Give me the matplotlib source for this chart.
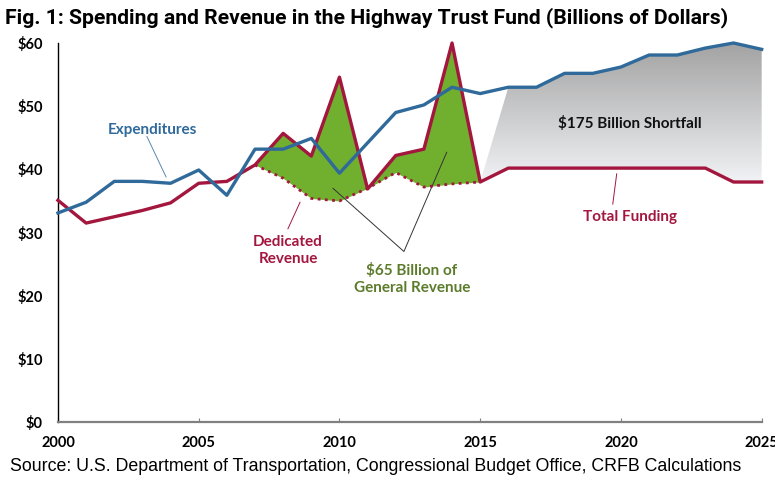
import numpy as np
import matplotlib
matplotlib.use('Agg')
import matplotlib.pyplot as plt
from matplotlib.patches import Polygon
from matplotlib.colors import LinearSegmentedColormap

# ---- Data (billions of dollars) ----
years = list(range(2000, 2026))
expenditures = [33.1, 34.8, 38.1, 38.1, 37.8, 39.9, 35.9, 43.2, 43.2, 44.9,
                39.4, 44.2, 49.0, 50.2, 53.0, 52.0, 53.0, 53.0, 55.2, 55.2,
                56.2, 58.1, 58.1, 59.2, 60.0, 59.0]
total_funding = [35.1, 31.5, 32.5, 33.5, 34.7, 37.8, 38.1, 40.7, 45.7, 42.1,
                 54.6, 36.9, 42.2, 43.2, 60.0, 38.0, 40.2, 40.2, 40.2, 40.2,
                 40.2, 40.2, 40.2, 40.2, 38.0, 38.0]
dedicated_years = list(range(2007, 2016))
dedicated_revenue = [40.7, 38.6, 35.4, 35.0, 37.0, 39.5, 37.2, 37.7, 38.0]

BLUE = '#2f6a9b'
RED = '#a3173f'
GREEN = '#71af2f'
LABEL_GREEN = '#5c7c2c'
LABEL_FONT = ['Lato', 'DejaVu Sans']

fig = plt.figure(figsize=(7.75, 4.78), dpi=100)
ax = fig.add_axes([0.0748, 0.117, 0.908, 0.793])

yr = np.array(years)
exp_arr = np.array(expenditures)
fund_arr = np.array(total_funding)

# green area: general revenue transfers
fund_sub = fund_arr[(yr >= 2007) & (yr <= 2015)]
ax.fill_between(dedicated_years, dedicated_revenue, fund_sub, color=GREEN, lw=0, zorder=1)

# gray gradient area: projected shortfall
mask_top = yr >= 2016
mask_bot = yr >= 2015
verts = list(zip(yr[mask_top], exp_arr[mask_top])) + \
        list(zip(yr[mask_bot][::-1], fund_arr[mask_bot][::-1]))
poly = Polygon(verts, closed=True, facecolor='none', edgecolor='none')
ax.add_patch(poly)
cmap = LinearSegmentedColormap.from_list('shade', ['#f1f2f5', '#a3a3a3'])
grad = np.linspace(0, 1, 256).reshape(-1, 1)
img = ax.imshow(grad, extent=[2015, 2025, 38, 60], origin='lower', cmap=cmap,
                aspect='auto', zorder=1, interpolation='bilinear')
img.set_clip_path(poly)

ax.plot(years, total_funding, color=RED, lw=2.4, zorder=3, clip_on=False)
ax.plot(dedicated_years, dedicated_revenue, color=RED, lw=2.0, ls=(0, (1, 1.6)),
        zorder=3)
ax.plot(years, expenditures, color=BLUE, lw=2.4, zorder=4, clip_on=False)

ax.set_xlim(2000, 2025)
ax.set_ylim(0, 60)
ax.set_xticks(range(2000, 2026, 5))
ax.set_yticks(range(0, 61, 10))
ax.set_yticklabels([f'${v}' for v in range(0, 61, 10)])
for lab in ax.get_xticklabels() + ax.get_yticklabels():
    lab.set_fontfamily(LABEL_FONT)
    lab.set_fontweight('bold')
    lab.set_fontsize(10.5)
ax.tick_params(axis='y', length=0, pad=11)
ax.tick_params(axis='x', direction='in', length=3, color='#808080', pad=10)

for side in ['top', 'right']:
    ax.spines[side].set_visible(False)
ax.spines['left'].set_color('black')
ax.spines['left'].set_linewidth(1.0)
ax.spines['bottom'].set_color('#808080')
ax.spines['bottom'].set_linewidth(1.6)

# annotations
ax.text(2003.37, 46.2, 'Expenditures', color=BLUE, fontsize=11, fontweight='bold',
        family=LABEL_FONT, ha='center', va='center')
ax.plot([2003.16, 2003.84], [45.2, 38.8], color=BLUE, lw=0.7, alpha=0.8)

ax.text(2008.17, 27.2, 'Dedicated\nRevenue', color=RED, fontsize=11, fontweight='bold',
        family=LABEL_FONT, ha='center', va='center', linespacing=1.25)
ax.plot([2008.17, 2008.6], [30.6, 34.8], color=RED, lw=0.7)

ax.text(2012.57, 22.6, '$65 Billion of\nGeneral Revenue', color=LABEL_GREEN, fontsize=11,
        fontweight='bold', family=LABEL_FONT, ha='center', va='center', linespacing=1.25)
ax.plot([2009.77, 2012.29, 2013.81], [37.0, 27.0, 42.7], color='#333333', lw=0.7)

ax.text(2020.31, 47.3, '$175 Billion Shortfall', color='#111111', fontsize=11,
        fontweight='bold', family=LABEL_FONT, ha='center', va='center')

ax.text(2020.31, 32.5, 'Total Funding', color=RED, fontsize=11, fontweight='bold',
        family=LABEL_FONT, ha='center', va='center')
ax.plot([2019.71, 2019.85], [34.5, 39.3], color=RED, lw=0.7)

fig.text(0.007, 0.963, 'Fig. 1: Spending and Revenue in the Highway Trust Fund (Billions of Dollars)',
         fontsize=15.2, fontweight='bold', family=['Roboto', 'DejaVu Sans'],
         ha='left', va='center')
fig.text(0.013, 0.025, 'Source: U.S. Department of Transportation, Congressional Budget Office, CRFB Calculations',
         fontsize=12.8, family=['Liberation Sans', 'DejaVu Sans'], ha='left', va='center')

fig.savefig('out.png', dpi=100)
